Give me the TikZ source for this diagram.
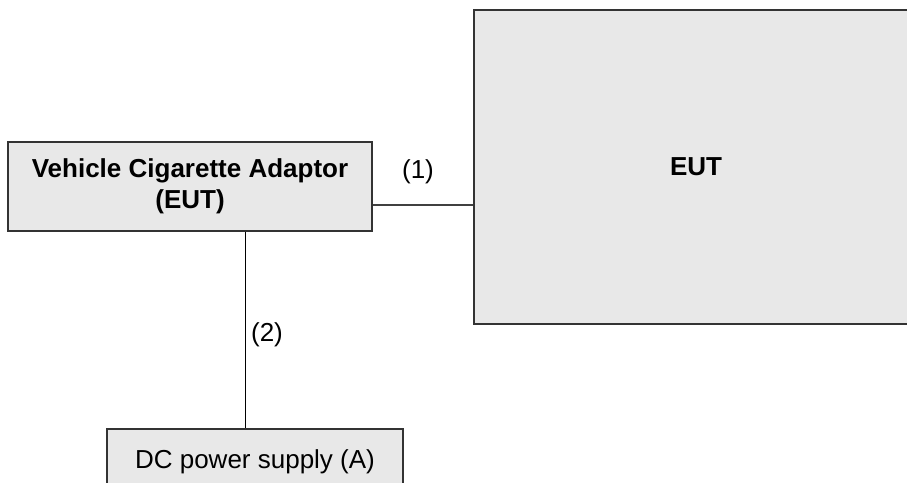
\documentclass[tikz,border=0pt]{standalone}
\usepackage{fontspec}
\setmainfont{Liberation Sans}
\begin{document}
\begin{tikzpicture}[x=1pt,y=-1pt,
  box/.style={draw=black!80, fill=black!9, line width=1.3pt, rectangle, inner sep=0pt, align=center, font=\fontsize{26}{31}\selectfont},
  wire/.style={line width=1.3pt, draw=black!75},
  lbl/.style={inner sep=0pt, font=\fontsize{26}{31}\selectfont}]
\begin{scope}
\clip (0,0) rectangle (907,482);
\node[box, minimum width=364pt, minimum height=89pt] (adaptor) at (190,186.5) {\bfseries Vehicle Cigarette Adaptor\\\bfseries (EUT)};
\node[box, minimum width=444pt, minimum height=314pt] (eut) at (696,167) {\bfseries EUT};
\node[box, minimum width=296pt, minimum height=66pt] (dc) at (255,462) {DC power supply (A)};
\coordinate (v) at (245.6,0);
\coordinate (h) at (0,205);
\draw[wire] (adaptor.east |- h) -- (eut.west |- h);
\draw[wire, draw=black] (adaptor.south -| v) -- (dc.north -| v);
\node[lbl] (l1) at (418,172) {(1)};
\node[lbl] (l2) at (267,335) {(2)};
\end{scope}
\pgfresetboundingbox
\useasboundingbox (0,0) rectangle (907,482);
\end{tikzpicture}
\end{document}
